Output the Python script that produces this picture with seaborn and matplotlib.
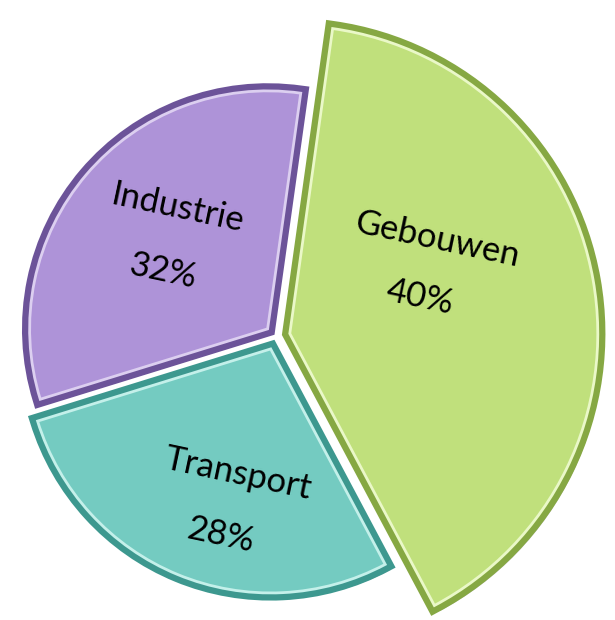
import matplotlib.pyplot as plt
import seaborn as sns
import matplotlib.patheffects as pe

# Share of energy use per sector
sectors = ["Industrie", "Transport", "Gebouwen"]
shares = [32, 28, 40]

face_colors = ["#ae93d8", "#74cbc1", "#c0e07c"]
edge_colors = ["#6c5399", "#3d988f", "#86a843"]
light_colors = ["#dccff0", "#c4f0ea", "#eaf8c8"]

sns.set_theme(style="white")
plt.rcParams['font.family'] = ['Lato', 'DejaVu Sans']

fig = plt.figure(figsize=(6.15, 6.2), dpi=100)
ax = fig.add_axes([0, 0, 1, 1])

# pie in pixel-like data units (y up), explode given in the same units
wedges, _ = ax.pie(shares, explode=[11, 14, 14], startangle=82,
                   radius=250, center=(276, 284), colors=face_colors,
                   wedgeprops=dict(linewidth=2))

radii = [238, 244, 308]
for w, r, ec, lc in zip(wedges, radii, edge_colors, light_colors):
    w.set_radius(r)
    w.set_edgecolor(lc)
    w.set_path_effects([
        pe.SimplePatchShadow(offset=(4, -4), shadow_rgbFace="#555555", alpha=0.35),
        pe.Stroke(linewidth=11, foreground=ec),
        pe.Normal(),
    ])

# labels, tilted like the 3D view
label_pos = [((178, 412), (163, 349)), ((238, 146), (221, 85)), ((437, 380), (420, 323))]
for name, val, (p1, p2) in zip(sectors, shares, label_pos):
    ax.text(*p1, name, fontsize=25, rotation=-12, ha="center", va="center", color="black")
    ax.text(*p2, f"{val}%", fontsize=25, rotation=-12, ha="center", va="center", color="black")

ax.set_xlim(0, 615)
ax.set_ylim(0, 620)
ax.set_aspect("equal")
ax.axis("off")

plt.savefig("out.png", dpi=100)
